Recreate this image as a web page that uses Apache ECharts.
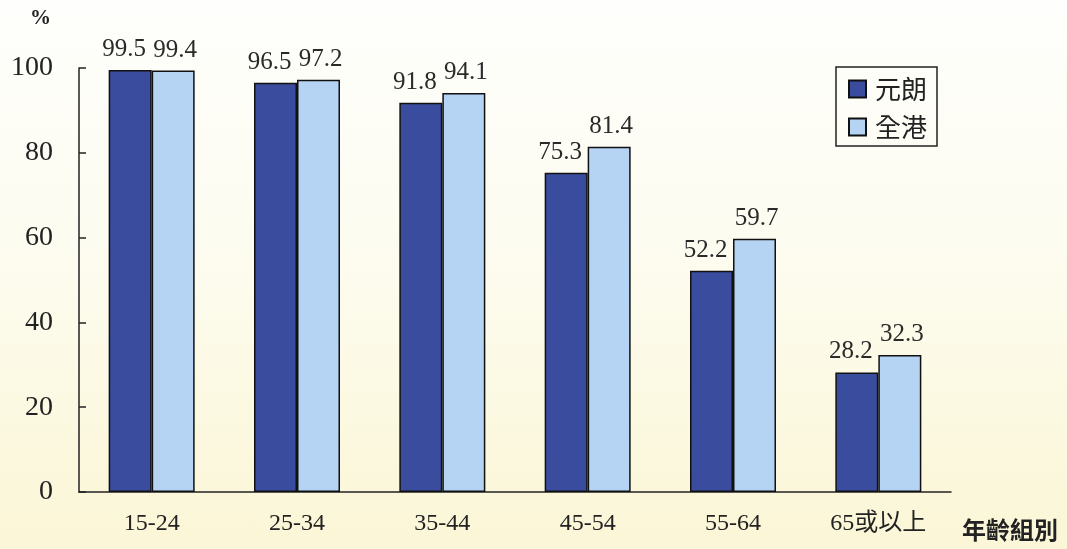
<!DOCTYPE html>
<html>
<head>
<meta charset="utf-8">
<script src="https://cdn.jsdelivr.net/npm/echarts@6/dist/echarts.min.js"></script>
<style>
html,body{margin:0;padding:0;}
#c{width:1067px;height:549px;background:linear-gradient(to bottom,#fefefc 0%,#fdfcf0 45%,#fbf6d6 100%);}
</style>
</head>
<body>
<div id="c"></div>
<script>
var categories = ['15-24','25-34','35-44','45-54','55-64','65或以上'];
var yuenLong = [99.5, 96.5, 91.8, 75.3, 52.2, 28.2];
var wholeHK = [99.4, 97.2, 94.1, 81.4, 59.7, 32.3];
var seriesNames = ['元朗','全港'];
var yTicks = [0,20,40,60,80,100];

var chart = echarts.init(document.getElementById('c'), null, {renderer:'canvas'});
var serif = '"Liberation Serif","DejaVu Serif",serif';
var cjk = '"Noto Sans CJK TC","Noto Sans CJK SC",sans-serif';
function lbl(dx){return {show:true, position:'top', distance:8, offset:[dx,0], color:'#2a2a2a', fontFamily:serif, fontSize:25};}
chart.setOption({
  backgroundColor:'transparent',
  animation:false,
  grid:{left:79, right:116, top:68, bottom:57, containLabel:false},
  legend:{
    data:seriesNames,
    orient:'vertical',
    left:836, top:67,
    width:106,
    padding:[9,10,6,12],
    itemGap:12,
    itemWidth:17, itemHeight:17,
    borderColor:'#222', borderWidth:1.5,
    textStyle:{fontFamily:cjk, fontSize:26, color:'#222', padding:[0,0,0,4]},
    icon:'rect'
  },
  xAxis:{
    type:'category',
    data:categories,
    axisLine:{lineStyle:{color:'#222', width:1.5}},
    axisTick:{inside:true, length:7, lineStyle:{color:'#222', width:1.5}},
    axisLabel:{margin:20, color:'#222', fontSize:24, fontFamily:'"Liberation Serif","Noto Sans CJK TC",serif'}
  },
  yAxis:{
    type:'value',
    min:0, max:100, interval:20,
    splitLine:{show:false},
    axisLine:{show:true, lineStyle:{color:'#222', width:1.5}},
    axisTick:{show:true, inside:true, length:7, lineStyle:{color:'#222', width:1.5}},
    axisLabel:{margin:26, color:'#222', fontSize:28, fontFamily:serif,
      formatter:function(v){return yTicks.indexOf(v)>=0?String(v):'';}}
  },
  series:[
    {name:seriesNames[0], type:'bar', data:yuenLong, barWidth:43, barGap:'0%',
     itemStyle:{color:'#3a4c9e', borderColor:'#111', borderWidth:1.5}, label:lbl(-6)},
    {name:seriesNames[1], type:'bar', data:wholeHK, barWidth:43, barGap:'0%',
     itemStyle:{color:'#b5d3f3', borderColor:'#111', borderWidth:1.5}, label:lbl(2)}
  ],
  graphic:[
    {type:'text', left:30, top:8, style:{text:'%', font:'bold 21px '+serif, fill:'#222'}},
    {type:'text', left:962, top:518, style:{text:'年齡組別', font:'bold 24px '+cjk, fill:'#222'}}
  ]
});
</script>
</body>
</html>
